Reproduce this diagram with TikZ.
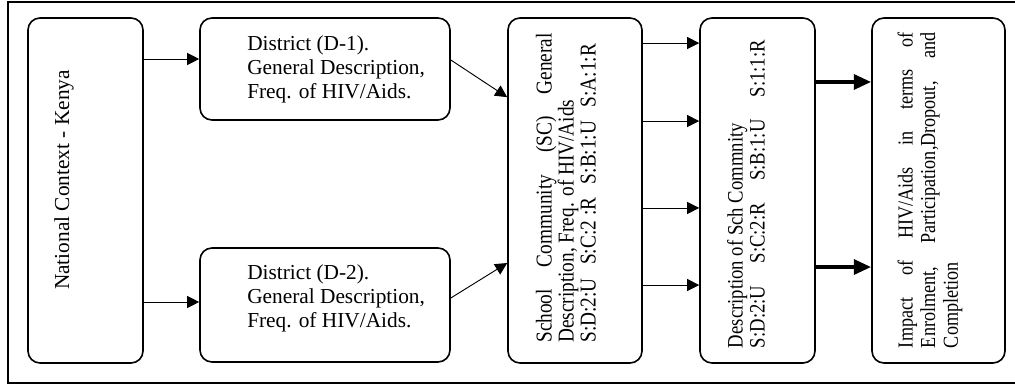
\documentclass[tikz,border=0pt]{standalone}
\usepackage{fontspec}
\setmainfont{Liberation Serif}
\newfontfamily\narrowserif[FakeStretch=0.85]{Liberation Serif}
\usetikzlibrary{arrows.meta, positioning}

\tikzset{
  block/.style={draw, line width=1.2pt, rounded corners=9pt},
  vtext/.style={rotate=90, align=justify, inner sep=0pt},
  htext/.style={anchor=west, align=left, inner sep=0pt, font=\fontsize{16}{18}\selectfont},
  thinarrow/.style={-{Triangle[length=9pt,width=9pt]}, line width=0.7pt},
  thickarrow/.style={-{Triangle[length=13pt,width=11pt]}, line width=3pt},
}

\begin{document}
\begin{tikzpicture}[x=0.75pt,y=-0.75pt]
  \useasboundingbox (0,0) rectangle (1015,385);
  % frame round the figure
  \draw[line width=1.2pt] (8,2) rectangle (1030,383);

  % boxes
  \node[block, minimum width=86.25pt, minimum height=258.75pt] (nat) at (85.5,190.5) {};
  \node[vtext, font=\fontsize{16}{18}\selectfont] (nat-txt) at (64,180) {National Context - Kenya};

  \node[block, minimum width=187.5pt, minimum height=76.5pt] (dist1) at (325,69) {};
  \node[htext] (dist1-txt) at (247,69) {District (D-1).\\General Description,\\Freq. of HIV/Aids.};
  \node[block, minimum width=187.5pt, minimum height=85.5pt] (dist2) at (325,305) {};
  \node[htext] (dist2-txt) at (247,298) {District (D-2).\\General Description,\\Freq. of HIV/Aids.};

  \node[block, minimum width=100.5pt, minimum height=258.75pt] (sc) at (575,190.5) {};
  \node[vtext, text width=232pt, font=\narrowserif\fontsize{17}{16.5}\selectfont] (sc-txt) at (566,188)
        {School Community (SC) General\linebreak Description, Freq. of HIV/Aids\par
         \makebox[\linewidth][s]{S:D:2:U\hfill S:C:2 :R\hfill S:B:1:U\hfill S:A:1:R\hspace{8pt}}};

  \node[block, minimum width=86.25pt, minimum height=258.75pt] (desc) at (757.5,190.5) {};
  \node[vtext, text width=231pt, font=\narrowserif\fontsize{16.5}{16.5}\selectfont] (desc-txt) at (746,194)
        {Description of Sch Commnity\par
         \makebox[\linewidth][s]{S:D:2:U\hfill S:C:2:R\hfill S:B:1:U\hfill S:1:1:R}};

  \node[block, minimum width=99.75pt, minimum height=258.75pt] (impact) at (938.5,190.5) {};
  \node[vtext, text width=237pt, font=\narrowserif\fontsize{16}{16.9}\selectfont] (impact-txt) at (930,190)
        {Impact of HIV/Aids in terms of\linebreak Enrolment, Participation,Dropout, and Completion};

  % connectors
  \draw[thinarrow] ([yshift=7.5pt]nat.east |- dist1.west) -- ([yshift=7.5pt]dist1.west);
  \draw[thinarrow] ([yshift=2.25pt]nat.east |- dist2.west) -- ([yshift=2.25pt]dist2.west);
  \draw[thinarrow] ([yshift=6.75pt]dist1.east) -- ([yshift=70pt]sc.west);
  \draw[thinarrow] ([yshift=5.25pt]dist2.east) -- ([yshift=-54.4pt]sc.west);
  \foreach \dy in {110.6, 52.1, -13.1, -70.9} {
    \draw[thinarrow] ([yshift=\dy pt]sc.east) -- ([yshift=\dy pt]desc.west);
  };
  \foreach \dy in {81.4, -57.4} {
    \draw[thickarrow] ([yshift=\dy pt]desc.east) -- ([yshift=\dy pt]impact.west);
  };
\end{tikzpicture}
\end{document}
